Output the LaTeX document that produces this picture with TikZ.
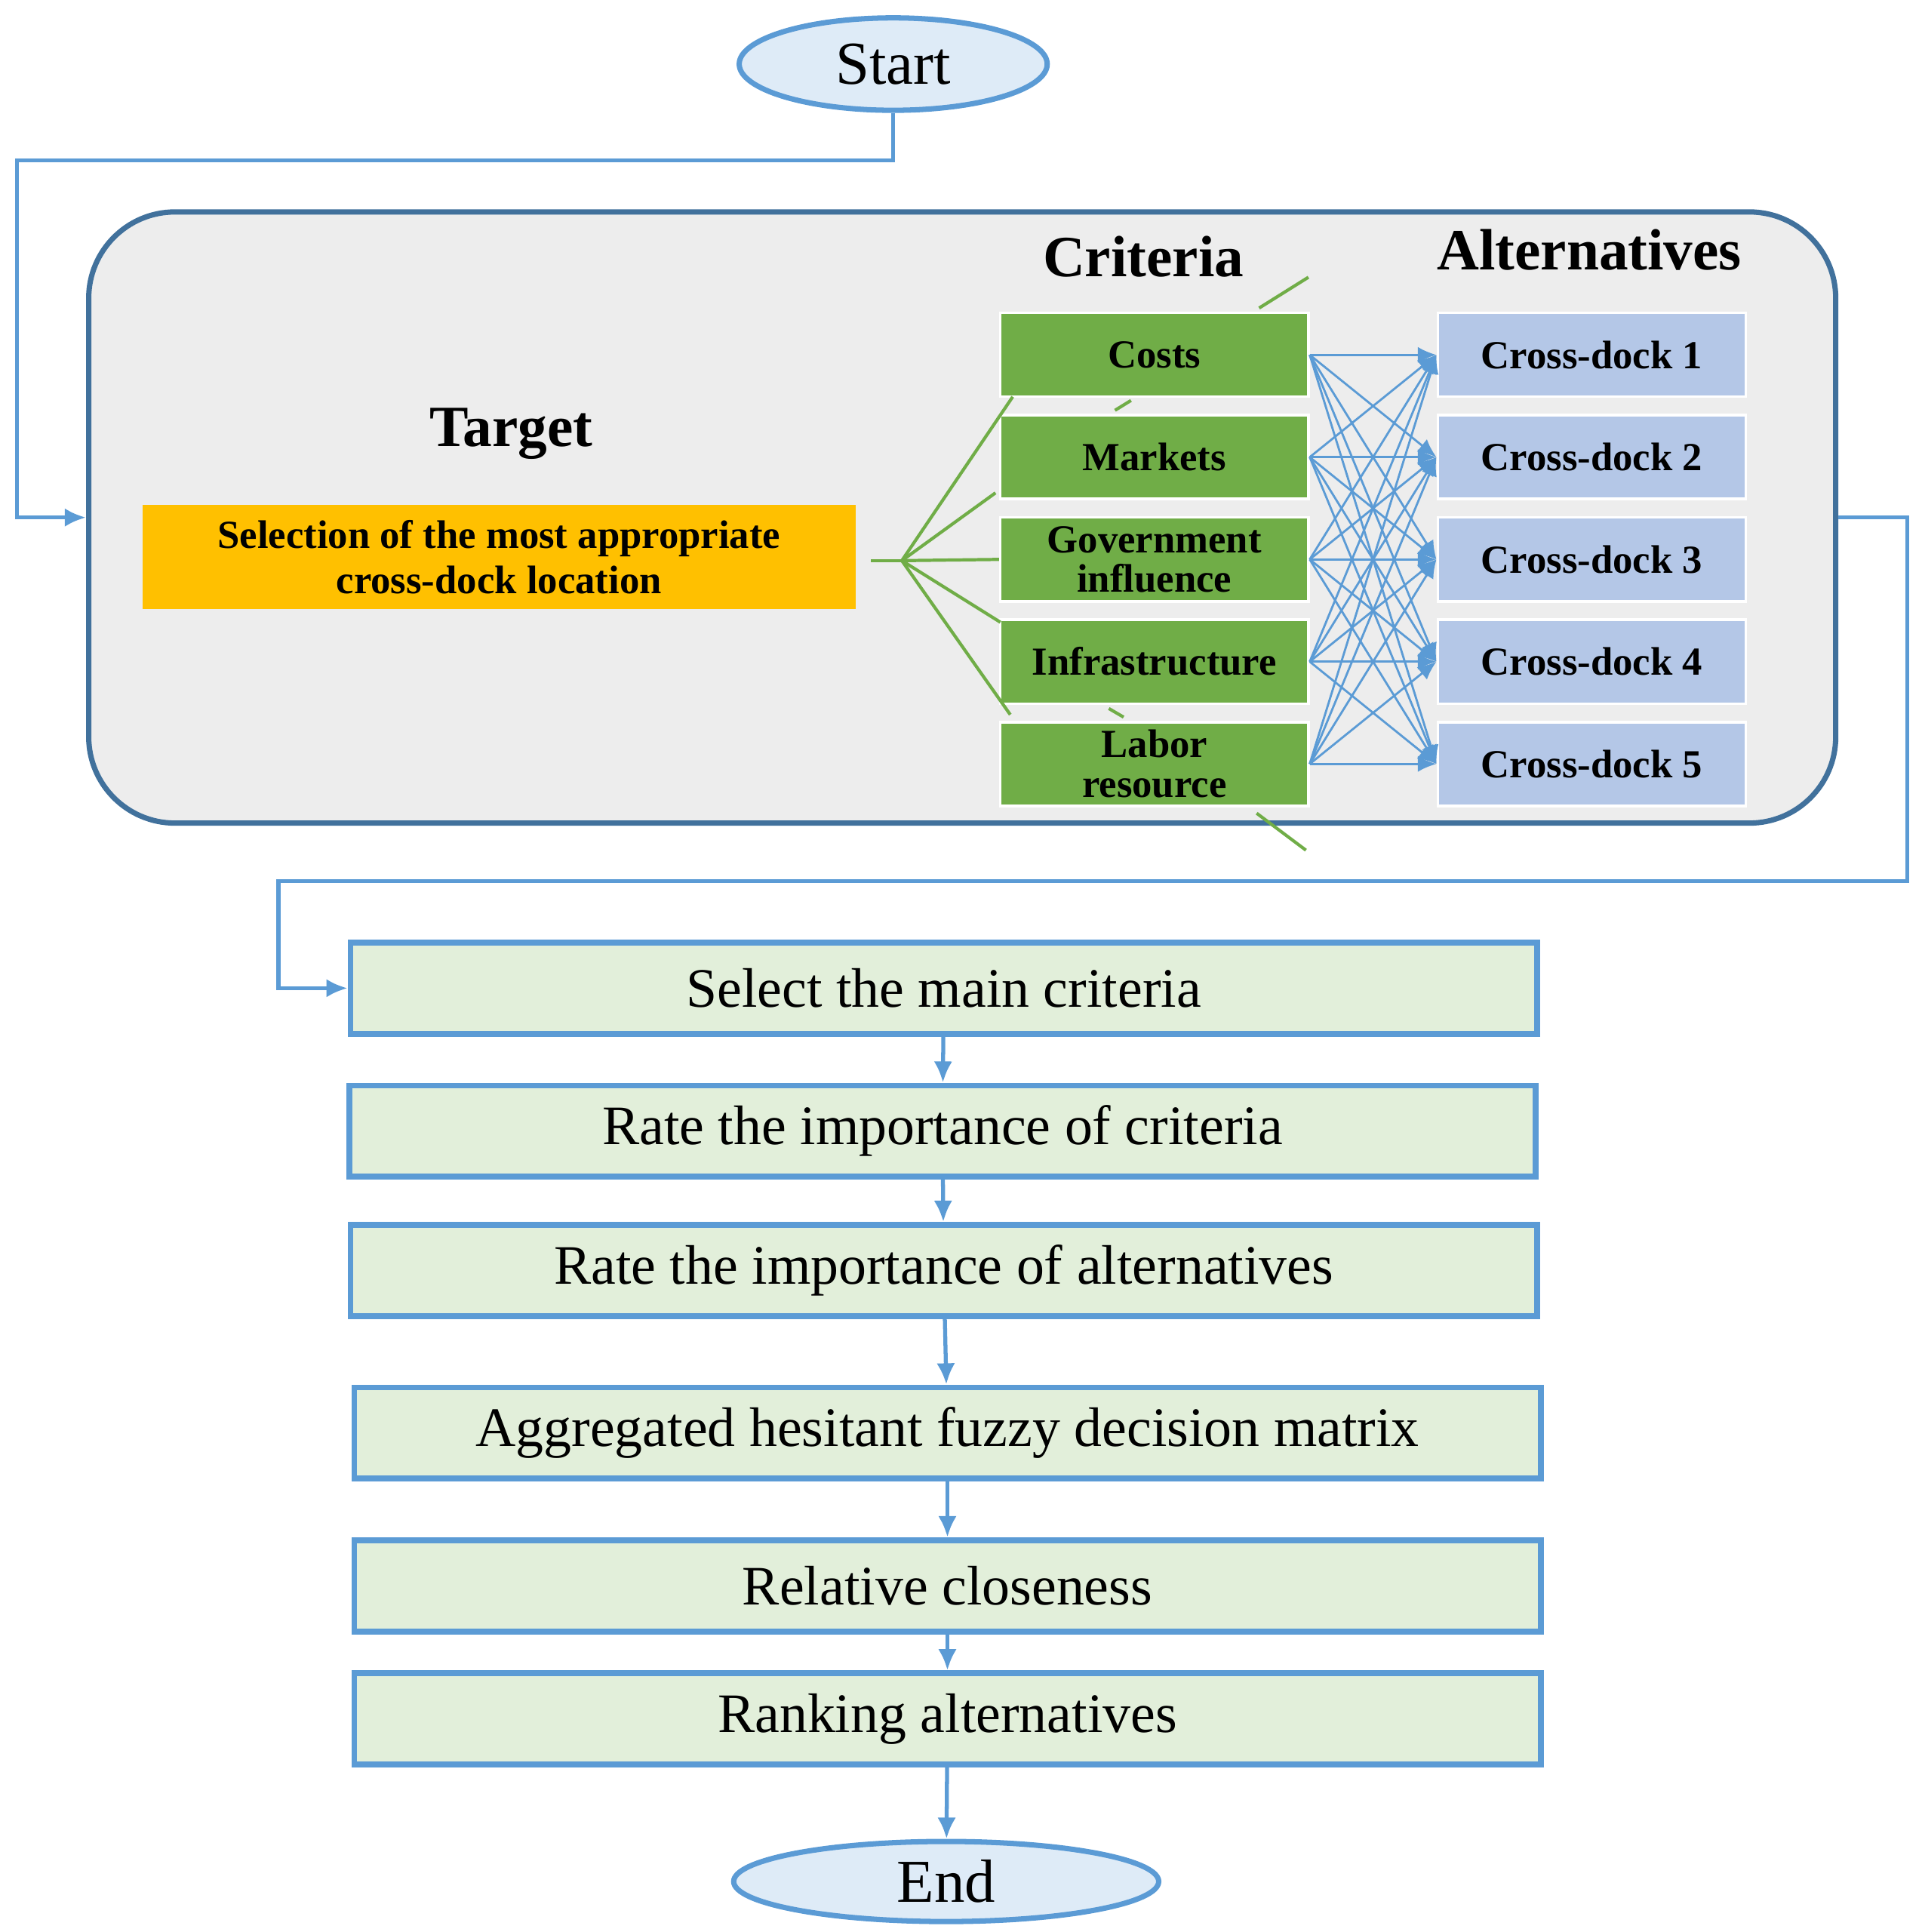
\documentclass[tikz,border=0pt]{standalone}
\usepackage{fontspec}
\setmainfont{Liberation Serif}
\usetikzlibrary{shapes.geometric,arrows.meta}
\definecolor{lineblue}{HTML}{5B9BD5}
\definecolor{darkblue}{HTML}{41719C}
\definecolor{critgreen}{HTML}{70AD47}
\definecolor{altblue}{HTML}{B4C7E7}
\definecolor{stepgreen}{HTML}{E2EFDA}
\definecolor{target}{HTML}{FFC000}
\definecolor{ovalfill}{HTML}{DEEBF7}
\tikzset{
  stage/.style={draw=lineblue,line width=2.2pt,fill=stepgreen,minimum width=963*0.01633cm,
    minimum height=74*0.01633cm,inner sep=0pt,font=\fontsize{21}{24}\selectfont},
  crit/.style={draw=white,line width=1pt,fill=critgreen,minimum width=250*0.01633cm,
    minimum height=68*0.01633cm,inner sep=0pt,align=center,
    font=\bfseries\fontsize{15}{15}\selectfont},
  alt/.style={crit,fill=altblue},
  oval/.style={ellipse,draw=lineblue,line width=2pt,fill=ovalfill,inner sep=0pt,
    font=\fontsize{23}{26}\selectfont},
  head/.style={font=\bfseries\fontsize{22}{26}\selectfont},
  flow/.style={draw=lineblue,line width=1.5pt,-{Latex[length=8pt,width=7pt]}},
  fan/.style={draw=critgreen,line width=1.2pt},
  link/.style={draw=lineblue,line width=0.8pt,-{Latex[length=7pt,width=6pt]}}
}
\begin{document}
\begin{tikzpicture}[x=0.01633cm,y=-0.01633cm]
    \useasboundingbox (0,0) rectangle (1560,1568);

    % Debut
    \node[oval,minimum width=250*0.01633cm,minimum height=75*0.01633cm] (start) at (725,52) {Start};

    % Cadre principal
    \node[draw=darkblue,line width=2pt,fill=black!7,rounded corners=70*0.01633cm,
      minimum width=1418*0.01633cm,minimum height=496*0.01633cm] (frame) at (781,420) {};
    \node[head] (hcrit) at (928,208) {Criteria};
    \node[head] (halt) at (1290,203) {Alternatives};
    \node[head] (htarget) at (415,352) {Target};

    \node[fill=target,minimum width=579*0.01633cm,minimum height=85*0.01633cm,inner sep=0pt,
      align=center,font=\bfseries\fontsize{15}{17}\selectfont] (goal) at (405,452)
      {Selection of the most appropriate\\cross-dock location};

    % Criteres et alternatives
    \node[crit] (c1) at (937,288) {Costs};
    \node[crit] (c2) at (937,371) {Markets};
    \node[crit] (c3) at (937,454) {Government\\influence};
    \node[crit] (c4) at (937,537) {Infrastructure};
    \node[crit] (c5) at (937,620) {Labor\\resource};
    \foreach \i in {1,...,5}
        \node[alt] (a\i) at (1292,205+83*\i) {Cross-dock \i};

    % Arbre
    \coordinate (hub) at (732,455);
    \draw[fan] (goal.east) ++(12,3) -- (hub);
    \draw[fan] (hub) -- (822,322);
    \draw[fan] (hub) -- (808,400);
    \draw[fan] (hub) -- (c3.west);
    \draw[fan] (hub) -- (812,505);
    \draw[fan] (hub) -- (820,580);
    \draw[fan] (1022,250) -- (1062,225);
    \draw[fan] (905,333) -- (918,325);
    \draw[fan] (900,575) -- (912,582);
    \draw[fan] (1020,660) -- (1060,690);

    \foreach \i in {1,...,5}
        \foreach \j in {1,...,5}
            \draw[link] (c\i.east) -- (a\j.west);

    % Etapes
    \node[stage] (s1) at (766,802) {Select the main criteria};
    \node[stage] (s2) at (765,918) {Rate the importance of criteria};
    \node[stage] (s3) at (766,1031) {Rate the importance of alternatives};
    \node[stage] (s4) at (769,1163) {Aggregated hesitant fuzzy decision matrix};
    \node[stage] (s5) at (769,1287) {Relative closeness};
    \node[stage] (s6) at (769,1395) {Ranking alternatives};

    % Fin
    \node[oval,minimum width=345*0.01633cm,minimum height=65*0.01633cm] (stop) at (768,1527) {End};

    % Liaisons
    \draw[flow] (start.south) |- (14,130) |- (frame.west);
    \draw[flow] (frame.east |- 0,420) -- (1548,420) |- (226,715) |- (s1.west);
    \draw[flow] (s1) -- (s2);
    \draw[flow] (s2) -- (s3);
    \draw[flow] (s3) -- (s4);
    \draw[flow] (s4) -- (s5);
    \draw[flow] (s5) -- (s6);
    \draw[flow] (s6) -- (stop);
\end{tikzpicture}
\end{document}
